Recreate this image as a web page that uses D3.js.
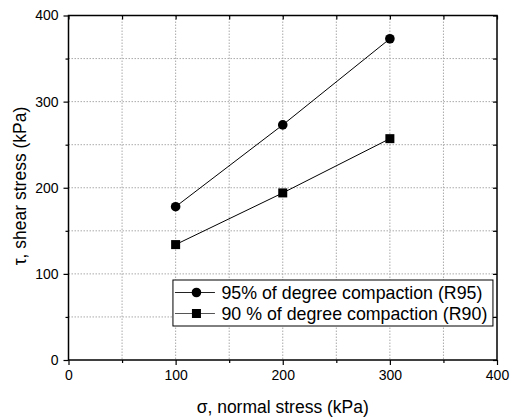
<!DOCTYPE html>
<html>
<head>
<meta charset="utf-8">
<script src="https://cdn.jsdelivr.net/npm/d3@7"></script>
<style>
body { margin: 0; background: #fff; }
svg { font-family: "Liberation Sans", Arial, sans-serif; }
</style>
</head>
<body>
<svg width="514" height="418"></svg>
<script>
var stress = [100, 200, 300];
var r95 = [178, 273, 373];
var r90 = [134, 194, 257];
var seriesNames = ["95% of degree compaction (R95)", "90 % of degree compaction (R90)"];
var tickVals = [0, 100, 200, 300, 400];
var minorVals = [50, 150, 250, 350];

var svg = d3.select("svg");
var margin = {top: 15.5, right: 17, bottom: 58, left: 68.5};
var width = 514 - margin.left - margin.right;
var height = 418 - margin.top - margin.bottom;

var g = svg.append("g")
    .attr("transform", "translate(" + margin.left + "," + margin.top + ")");

var x = d3.scaleLinear().domain([0, 400]).range([0, width]);
var y = d3.scaleLinear().domain([0, 400]).range([height, 0]);

// grid
var gridVals = minorVals.concat([100, 200, 300]);
g.selectAll(".gx").data(gridVals).enter().append("line")
    .attr("x1", d => x(d)).attr("x2", d => x(d))
    .attr("y1", 0).attr("y2", height)
    .style("stroke", "#aaa").style("stroke-width", 1).style("stroke-dasharray", "1.5,1.5");
g.selectAll(".gy").data(gridVals).enter().append("line")
    .attr("y1", d => y(d)).attr("y2", d => y(d))
    .attr("x1", 0).attr("x2", width)
    .style("stroke", "#aaa").style("stroke-width", 1).style("stroke-dasharray", "1.5,1.5");

// axes
var xAxis = g.append("g").attr("transform", "translate(0," + height + ")")
    .call(d3.axisBottom(x).tickValues(tickVals).tickSize(5).tickPadding(5));
var xMinor = g.append("g").attr("transform", "translate(0," + height + ")")
    .call(d3.axisBottom(x).tickValues(minorVals).tickSize(3).tickFormat(""));
var yAxis = g.append("g")
    .call(d3.axisLeft(y).tickValues(tickVals).tickSize(5).tickPadding(5));
var yMinor = g.append("g")
    .call(d3.axisLeft(y).tickValues(minorVals).tickSize(3).tickFormat(""));
var xTop = g.append("g")
    .call(d3.axisBottom(x).tickValues(tickVals.concat(minorVals)).tickSize(4).tickFormat(""));
var yRight = g.append("g").attr("transform", "translate(" + width + ",0)")
    .call(d3.axisLeft(y).tickValues(tickVals.concat(minorVals)).tickSize(4).tickFormat(""));

[xAxis, xMinor, yAxis, yMinor, xTop, yRight].forEach(function(a) {
    a.selectAll("path").remove();
    a.selectAll("line").style("stroke", "#000").style("stroke-width", 1.2);
    a.selectAll("text").style("font-size", "14px").style("fill", "#000")
        .style("font-family", "Liberation Sans, Arial, sans-serif");
});

g.append("rect").attr("width", width).attr("height", height)
    .style("fill", "none").style("stroke", "#000").style("stroke-width", 1.5);

// lines
var line = d3.line().x(d => x(d[0])).y(d => y(d[1]));
var d95 = stress.map((s, i) => [s, r95[i]]);
var d90 = stress.map((s, i) => [s, r90[i]]);

g.append("path").datum(d95).attr("d", line)
    .style("fill", "none").style("stroke", "#000").style("stroke-width", 1);
g.append("path").datum(d90).attr("d", line)
    .style("fill", "none").style("stroke", "#000").style("stroke-width", 1);

g.selectAll(".c95").data(d95).enter().append("circle")
    .attr("cx", d => x(d[0])).attr("cy", d => y(d[1])).attr("r", 4.8)
    .style("fill", "#000");
g.selectAll(".s90").data(d90).enter().append("rect")
    .attr("x", d => x(d[0]) - 4.5).attr("y", d => y(d[1]) - 4.5)
    .attr("width", 9).attr("height", 9)
    .style("fill", "#000");

// legend
var lg = g.append("g").attr("transform", "translate(" + x(97.5) + "," + (280 - margin.top) + ")");
lg.append("rect").attr("width", 320).attr("height", 46)
    .style("fill", "#fff").style("stroke", "#000").style("stroke-width", 1);
seriesNames.forEach(function(name, i) {
    var yy = 12.5 + i * 21;
    lg.append("line").attr("x1", 2).attr("x2", 42).attr("y1", yy).attr("y2", yy)
        .style("stroke", i === 0 ? "#222" : "#555").style("stroke-width", 1);
    if (i === 0) {
        lg.append("circle").attr("cx", 23.5).attr("cy", yy).attr("r", 4.8).style("fill", "#000");
    } else {
        lg.append("rect").attr("x", 19).attr("y", yy - 4.5).attr("width", 9).attr("height", 9).style("fill", "#000");
    }
    lg.append("text").attr("x", 48.5).attr("y", yy).attr("dy", "0.36em")
        .style("font-size", "17.8px").text(name);
});

// axis titles
svg.append("text")
    .attr("x", margin.left + width / 2).attr("y", 413)
    .attr("text-anchor", "middle").style("font-size", "17.5px")
    .text("σ, normal stress (kPa)");
svg.append("text")
    .attr("transform", "translate(26," + 186 + ") rotate(-90)")
    .attr("text-anchor", "middle").style("font-size", "17.5px")
    .text("τ, shear stress (kPa)");
</script>
</body>
</html>
